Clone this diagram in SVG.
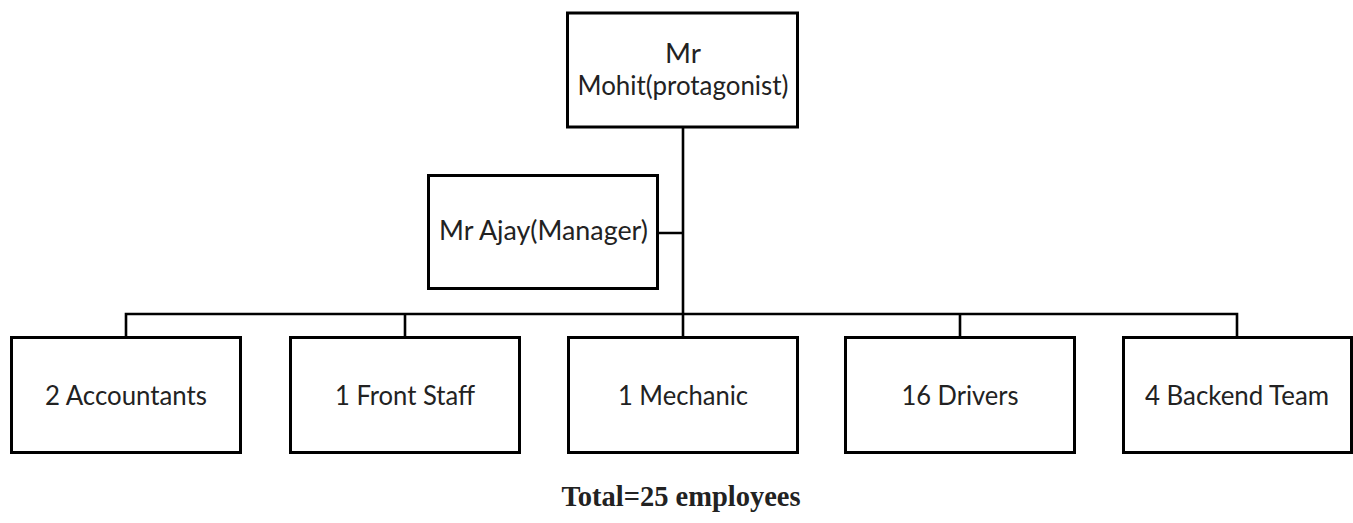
<svg xmlns="http://www.w3.org/2000/svg" width="1353" height="523" viewBox="0 0 1353 523">
<style>
.box{fill:#fff;stroke:#000;stroke-width:3}
.ln{fill:none;stroke:#000;stroke-width:2.6}
.t{font-family:Lato,"Open Sans",sans-serif;font-size:27px;fill:#222;text-anchor:middle}
.tot{font-family:"Liberation Serif","Times New Roman",serif;font-size:28.5px;font-weight:bold;fill:#222;text-anchor:middle}
</style>
<rect width="1353" height="523" fill="#fff"/>
<g id="connectors">
<path class="ln" d="M683 127V337M658 233H683M126 337V314H1237V337M405 314V337M960 314V337"/>
</g>
<g id="mohit">
<rect class="box" x="567.5" y="13" width="230" height="114"/>
<text class="t" x="683" y="63" textLength="36" lengthAdjust="spacingAndGlyphs">Mr</text>
<text class="t" x="683" y="95" textLength="211" lengthAdjust="spacingAndGlyphs">Mohit(protagonist)</text>
</g>
<g id="ajay">
<rect class="box" x="428.5" y="175.5" width="229" height="113"/>
<text class="t" x="543.5" y="240" textLength="209" lengthAdjust="spacingAndGlyphs">Mr Ajay(Manager)</text>
</g>
<g id="accountants">
<rect class="box" x="11.5" y="337.5" width="229" height="115"/>
<text class="t" x="126" y="405" textLength="162" lengthAdjust="spacingAndGlyphs">2 Accountants</text>
</g>
<g id="frontstaff">
<rect class="box" x="290.5" y="337.5" width="229" height="115"/>
<text class="t" x="405" y="405" textLength="140" lengthAdjust="spacingAndGlyphs">1 Front Staff</text>
</g>
<g id="mechanic">
<rect class="box" x="568.5" y="337.5" width="229" height="115"/>
<text class="t" x="683" y="405" textLength="130" lengthAdjust="spacingAndGlyphs">1 Mechanic</text>
</g>
<g id="drivers">
<rect class="box" x="845.5" y="337.5" width="229" height="115"/>
<text class="t" x="960" y="405" textLength="117" lengthAdjust="spacingAndGlyphs">16 Drivers</text>
</g>
<g id="backend">
<rect class="box" x="1123.5" y="337.5" width="228" height="115"/>
<text class="t" x="1237" y="405" textLength="184" lengthAdjust="spacingAndGlyphs">4 Backend Team</text>
</g>
<text class="tot" x="681" y="506">Total=25 employees</text>
</svg>
